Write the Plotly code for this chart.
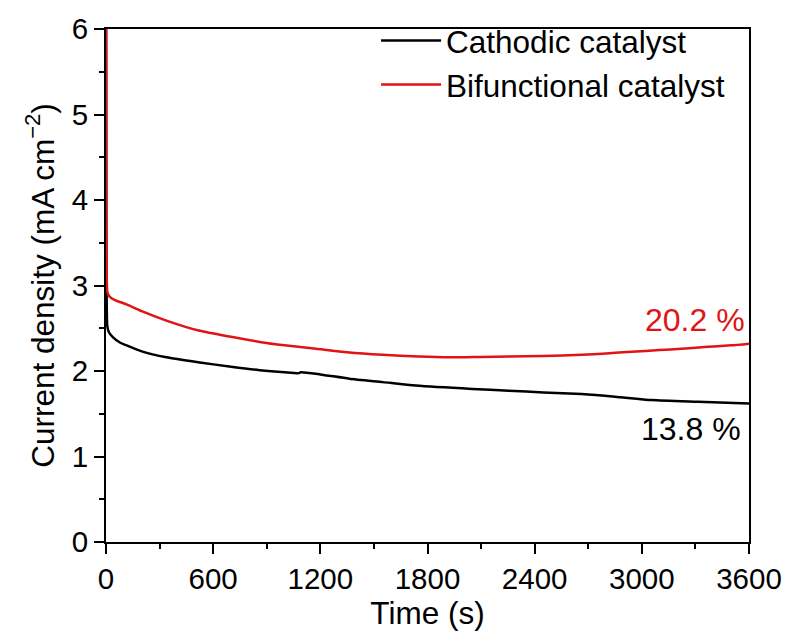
import plotly.graph_objects as go

# Chronoamperometry traces (time in s, current density in mA cm^-2)
cathodic_t = [0, 2, 4, 7, 15, 41, 80, 115, 200, 338, 525, 700, 860, 1000, 1080, 1090,
              1200, 1362, 1550, 1734, 2050, 2255, 2450, 2663, 2850, 3055, 3314, 3600]
cathodic_j = [7.0, 3.2, 2.8, 2.53, 2.46, 2.39, 2.33, 2.30, 2.23, 2.16, 2.10, 2.05, 2.01, 1.985,
              1.975, 1.985, 1.96, 1.91, 1.87, 1.83, 1.79, 1.77, 1.75, 1.73, 1.70, 1.66, 1.64, 1.62]

bifunc_t = [0, 2, 4, 8, 20, 50, 115, 200, 338, 525, 700, 860, 1000, 1176, 1350, 1548,
            1750, 1920, 2100, 2255, 2450, 2663, 2800, 2942, 3100, 3221, 3350, 3500, 3600]
bifunc_j = [8.0, 4.0, 3.1, 2.92, 2.87, 2.83, 2.78, 2.70, 2.59, 2.47, 2.40, 2.34, 2.30, 2.26,
            2.22, 2.19, 2.17, 2.16, 2.165, 2.17, 2.175, 2.19, 2.205, 2.225, 2.245, 2.26, 2.28,
            2.30, 2.32]

series_names = ["Cathodic catalyst", "Bifunctional catalyst"]
retention_labels = ["13.8 %", "20.2 %"]

x_ticks = [0, 600, 1200, 1800, 2400, 3000, 3600]
y_ticks = [0, 1, 2, 3, 4, 5, 6]

BLACK = "#000000"
RED = "#e01414"
FONT = "Liberation Sans, Arial, sans-serif"

fig = go.Figure()
fig.add_trace(go.Scatter(x=cathodic_t, y=cathodic_j, mode="lines", name=series_names[0],
                         line=dict(color=BLACK, width=2.5, shape="spline", smoothing=0.6)))
fig.add_trace(go.Scatter(x=bifunc_t, y=bifunc_j, mode="lines", name=series_names[1],
                         line=dict(color=RED, width=2.5, shape="spline", smoothing=0.6)))

fig.add_annotation(x=0.997, y=2.6, xref="paper", yref="y", text=retention_labels[1],
                   showarrow=False, xanchor="right", yanchor="middle",
                   font=dict(size=32, color=RED, family=FONT))
fig.add_annotation(x=0.99, y=1.32, xref="paper", yref="y", text=retention_labels[0],
                   showarrow=False, xanchor="right", yanchor="middle",
                   font=dict(size=32, color=BLACK, family=FONT))

axis_common = dict(showline=True, linecolor=BLACK, linewidth=2, mirror=True,
                   ticks="outside", ticklen=10, tickwidth=2, tickcolor=BLACK,
                   showgrid=False, zeroline=False,
                   tickfont=dict(size=29.5, color=BLACK, family=FONT))

fig.update_xaxes(range=[0, 3600], tickvals=x_ticks,
                 ticktext=[str(v) for v in x_ticks],
                 minor=dict(ticks="outside", ticklen=5, tickwidth=2, tickcolor=BLACK, dtick=300),
                 title=dict(text="Time (s)", font=dict(size=31.5, color=BLACK, family=FONT),
                            standoff=2),
                 **axis_common)
fig.update_yaxes(range=[0, 6], tickvals=y_ticks,
                 ticktext=[str(v) for v in y_ticks],
                 minor=dict(ticks="outside", ticklen=5, tickwidth=2, tickcolor=BLACK, dtick=0.5),
                 title=dict(text="Current density (mA cm<sup>\u22122</sup>)",
                            font=dict(size=31.5, color=BLACK, family=FONT), standoff=8),
                 **axis_common)

fig.update_layout(
    width=794, height=641,
    margin=dict(l=106, r=43, t=23, b=99),
    plot_bgcolor="white", paper_bgcolor="white",
    font=dict(family=FONT, color=BLACK),
    legend=dict(x=0.42, y=1.03, xanchor="left", yanchor="top",
                bgcolor="rgba(0,0,0,0)", borderwidth=0,
                font=dict(size=31.5, color=BLACK, family=FONT),
                itemwidth=60, tracegroupgap=0),
    showlegend=True,
)

fig.write_html("out.html")
